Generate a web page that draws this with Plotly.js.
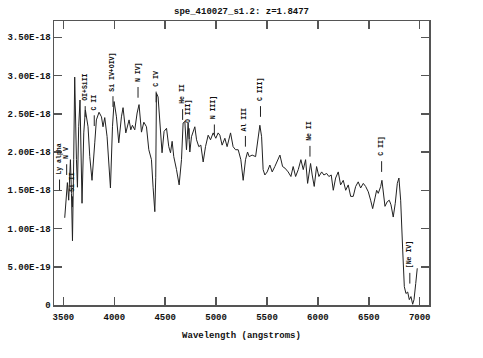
<!DOCTYPE html>
<html>
<head>
<meta charset="utf-8">
<script src="https://cdn.plot.ly/plotly-3.0.1.min.js"></script>
<style>html,body{margin:0;padding:0;background:#fff;}#chart{width:483px;height:358px;}</style>
</head>
<body>
<div id="chart"></div>
<script>
// Spectrum: observed wavelength (angstroms) and flux (units of 1e-18)
var wavelength = [3513,3530,3539,3552,3569,3579,3589,3601,3611,3628,3638,3650,3663,3683,3700,3716,3732,3742,3759,3781,
  3808,3824,3850,3874,3889,3906,3929,3945,3962,3982,3998,4021,4044,4070,4086,4113,4129,4145,4162,4178,
  4201,4224,4243,4267,4290,4316,4339,4365,4381,4398,4407,4414,4430,4447,4469,4489,4513,4535,4552,4568,
  4584,4611,4637,4660,4676,4693,4709,4725,4742,4758,4791,4808,4830,4850,4873,4896,4922,4945,4971,4997,
  5020,5037,5059,5086,5108,5142,5167,5191,5217,5243,5266,5289,5309,5325,5354,5388,5403,5430,5447,5462,
  5479,5502,5528,5551,5577,5594,5627,5653,5676,5708,5735,5757,5781,5807,5833,5856,5879,5899,5928,5944,
  5964,5987,6010,6037,6059,6086,6108,6131,6151,6174,6200,6223,6249,6273,6298,6322,6347,6371,6396,6420,
  6446,6469,6495,6518,6538,6561,6577,6593,6617,6629,6642,6659,6681,6701,6718,6740,6760,6780,6796,6813,
  6833,6849,6865,6882,6898,6914,6931,6944,6961,6976];
var flux = [1.14,1.50,1.60,1.37,1.90,1.46,0.84,1.90,2.98,1.90,1.54,2.33,2.68,1.33,2.25,2.55,2.42,2.33,1.94,1.63,
  2.12,2.42,2.52,2.46,2.33,2.45,2.20,1.90,1.53,2.33,2.66,2.46,2.12,2.46,2.58,2.25,2.35,2.42,2.29,2.35,
  2.29,2.51,2.62,2.26,2.39,2.33,2.03,1.90,1.54,1.22,1.67,2.77,2.72,2.33,1.99,2.27,2.31,2.07,1.99,2.14,
  1.94,1.77,1.57,1.90,2.38,2.40,2.03,2.38,2.00,2.20,2.33,2.16,2.07,2.09,1.87,2.07,2.22,2.16,2.25,2.18,
  2.25,2.22,2.09,2.18,2.07,2.25,2.07,2.03,2.03,1.90,1.63,1.90,2.00,1.94,1.96,1.94,2.07,2.35,2.20,1.77,
  1.70,1.74,1.83,1.74,1.81,1.87,1.96,1.81,1.79,1.74,1.68,1.81,1.68,1.77,1.90,1.77,1.90,1.59,1.85,1.70,
  1.55,1.81,1.68,1.74,1.70,1.72,1.68,1.70,1.50,1.66,1.74,1.57,1.63,1.50,1.57,1.42,1.42,1.55,1.61,1.53,
  1.59,1.55,1.48,1.37,1.26,1.40,1.50,1.46,1.55,1.63,1.50,1.29,1.35,1.37,1.31,1.15,1.33,1.59,1.66,1.37,
  0.72,0.24,0.15,0.17,0.07,0.11,0.01,0.07,0.28,0.48];

// Line identifications
var lineNames = ["Ly alpha","N V","Si II","OI+SiII","C II","Si IV+OIV]","N IV]","C IV","He II","O III]",
  "N III]","Al III","C III]","Ne II","C II]","[Ne IV]"];
var lineWavelength = [3462,3532,3589,3714,3803,3987,4233,4411,4671,4736,4983,5288,5436,5922,6626,6903];
var lineMarkFlux = [1.50,1.70,1.28,2.46,2.34,2.59,2.71,2.65,2.42,2.17,2.22,2.07,2.46,1.94,1.74,0.28];

// Axis ticks
var xTickVals = [3500,4000,4500,5000,5500,6000,6500,7000];
var yTickVals = [0,0.5,1.0,1.5,2.0,2.5,3.0,3.5];
var yTickText = ["0","5.00E-19","1.00E-18","1.50E-18","2.00E-18","2.50E-18","3.00E-18","3.50E-18"];

var FONT = "Liberation Mono, Courier New, monospace";
var markLen = 0.14;

var shapes = [];
var annotations = [];
for (var i = 0; i < lineNames.length; i++) {
  shapes.push({type:"line", xref:"x", yref:"y", x0:lineWavelength[i], x1:lineWavelength[i],
    y0:lineMarkFlux[i], y1:lineMarkFlux[i] + markLen, line:{color:"#222", width:1}});
  annotations.push({xref:"x", yref:"y", x:lineWavelength[i], y:lineMarkFlux[i] + markLen,
    text:lineNames[i], showarrow:false, textangle:-90, xanchor:"center", yanchor:"bottom",
    yshift:3, font:{family:FONT, size:6.5, color:"#111", weight:"bold"}});
}

var trace = {x:wavelength, y:flux, type:"scatter", mode:"lines",
  line:{color:"#222", width:1}, hoverinfo:"none"};

var axisCommon = {showline:true, linecolor:"#555", linewidth:1.5, mirror:"ticks",
  ticks:"inside", ticklen:8, tickwidth:1.5, tickcolor:"#555", showgrid:false, zeroline:false,
  tickfont:{family:FONT, size:9, color:"#111", weight:"bold"}};

var layout = {
  width:483, height:358,
  margin:{l:54, r:54, t:21, b:53},
  paper_bgcolor:"#fff", plot_bgcolor:"#fff",
  showlegend:false,
  title:{text:"spe_410027_s1.2: z=1.8477", x:0.5, xanchor:"center", y:0.970, yanchor:"middle",
    yref:"container", font:{family:FONT, size:9, color:"#111", weight:"bold"}},
  xaxis:Object.assign({}, axisCommon, {range:[3407.6,7091.4], tickmode:"array", tickvals:xTickVals,
    ticklabelstandoff:3,
    title:{text:"Wavelength (angstroms)", standoff:9, font:{family:FONT, size:9, color:"#111", weight:"bold"}}}),
  yaxis:Object.assign({}, axisCommon, {range:[0,3.713], tickmode:"array", tickvals:yTickVals, ticktext:yTickText}),
  shapes:shapes,
  annotations:annotations
};

Plotly.newPlot("chart", [trace], layout, {displayModeBar:false, staticPlot:true});
</script>
</body>
</html>
